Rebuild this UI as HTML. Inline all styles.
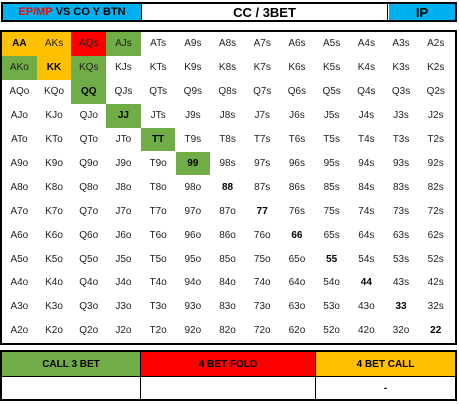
<!DOCTYPE html>
<html><head><meta charset="utf-8"><style>
body{margin:0;width:459px;height:404px;background:#fff;font-family:"Liberation Sans",Arial,sans-serif;position:relative;overflow:hidden}
.a{position:absolute;box-sizing:border-box;display:flex;align-items:center;justify-content:center}
.c{font-size:10px;color:#222}
.b{font-weight:bold;color:#000}
</style></head><body>
<div class="a" style="left:1px;top:2px;width:456px;height:20px;border:2px solid #000"></div>
<div class="a" style="left:3px;top:4px;width:139px;height:16px;background:#00B0F0;font-size:11px;font-weight:bold;border-right:1px solid #000"><span style="color:#f00">EP/MP</span>&nbsp;VS CO Y BTN</div>
<div class="a" style="left:142px;top:4px;width:246px;height:16px;font-size:13px;font-weight:bold;border-right:1px solid #000">CC / 3BET</div>
<div class="a" style="left:389px;top:4px;width:66px;height:16px;background:#00B0F0;font-size:13px;font-weight:bold">IP</div>
<div class="a" style="left:0px;top:30px;width:457px;height:315px;border:2px solid #000"></div>
<div id="grid"></div>
<div class="a" style="left:0px;top:350px;width:457px;height:51px;border:2px solid #000"></div>
<div class="a" style="left:2px;top:352px;width:139px;height:25px;background:#70AD47;font-size:10px;font-weight:bold;border-right:1px solid #000;border-bottom:1px solid #000">CALL 3 BET</div>
<div class="a" style="left:141px;top:352px;width:175px;height:25px;background:#f00;font-size:10px;font-weight:bold;border-right:1px solid #000;border-bottom:1px solid #000">4 BET FOLD</div>
<div class="a" style="left:316px;top:352px;width:139px;height:25px;background:#FFC000;font-size:10px;font-weight:bold;border-bottom:1px solid #000">4 BET CALL</div>
<div class="a" style="left:2px;top:377px;width:139px;height:22px;border-right:1px solid #000"></div>
<div class="a" style="left:141px;top:377px;width:175px;height:22px;border-right:1px solid #000"></div>
<div class="a" style="left:316px;top:377px;width:139px;height:22px;font-size:10px;font-weight:bold">-</div>
<script>
const ranks=['A','K','Q','J','T','9','8','7','6','5','4','3','2'];
const orangeHands=['AA','AKs','KK'];
const redHands=['AQs'];
const greenHands=['AJs','AKo','KQs','QQ','JJ','TT','99'];
const g=document.getElementById('grid');
const x0=2,y0=32,w=34.7,h=23.9;
for(let r=0;r<13;r++)for(let c=0;c<13;c++){
  let name=r===c?ranks[r]+ranks[c]:(c>r?ranks[r]+ranks[c]+'s':ranks[c]+ranks[r]+'o');
  const d=document.createElement('div');
  d.className='a c'+(r===c?' b':'');
  d.style.left=(x0+c*w)+'px';d.style.top=(y0+r*h)+'px';
  d.style.width=w+'px';d.style.height=h+'px';
  let bg='';
  if(orangeHands.includes(name))bg='#FFC000';
  else if(redHands.includes(name))bg='#FF0000';
  else if(greenHands.includes(name))bg='#70AD47';
  if(bg)d.style.background=bg;
  d.textContent=name;
  
  
  g.appendChild(d);
}
</script>
</body></html>
